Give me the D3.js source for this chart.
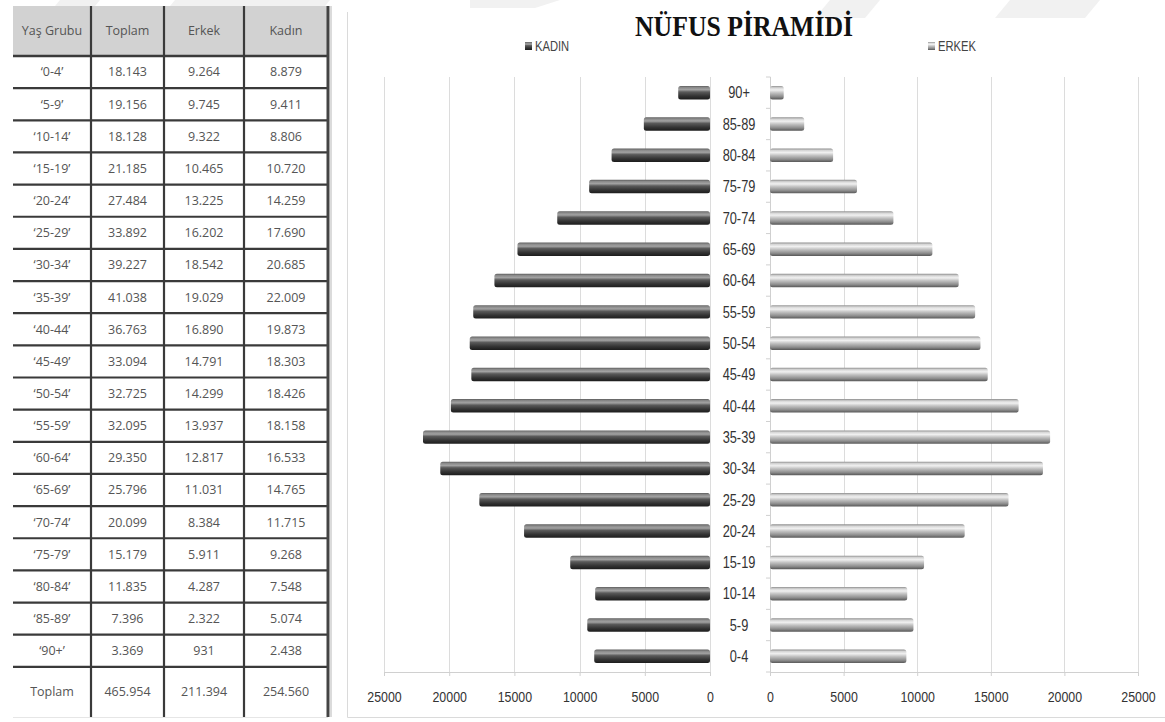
<!DOCTYPE html>
<html>
<head>
<meta charset="utf-8">
<script src="https://cdn.jsdelivr.net/npm/d3@7"></script>
<style>
  html, body { margin: 0; padding: 0; background: #fff; }
  svg { display: block; }
</style>
</head>
<body>
<svg id="chart" width="1165" height="722"></svg>
<script>
// ---------- DATA ----------
const ageGroups = ["0-4","5-9","10-14","15-19","20-24","25-29","30-34","35-39","40-44","45-49","50-54","55-59","60-64","65-69","70-74","75-79","80-84","85-89","90+"];
const toplam = [18143,19156,18128,21185,27484,33892,39227,41038,36763,33094,32725,32095,29350,25796,20099,15179,11835,7396,3369];
const erkek  = [9264,9745,9322,10465,13225,16202,18542,19029,16890,14791,14299,13937,12817,11031,8384,5911,4287,2322,931];
const kadin  = [8879,9411,8806,10720,14259,17690,20685,22009,19873,18303,18426,18158,16533,14765,11715,9268,7548,5074,2438];
const totals = [465954, 211394, 254560];
const tableHeaders = ["Yaş Grubu", "Toplam", "Erkek", "Kadın"];
const totalLabel = "Toplam";
const xTicks = [0, 5000, 10000, 15000, 20000, 25000];
const chartTitle = "NÜFUS PİRAMİDİ";
const legendLabels = ["KADIN", "ERKEK"];

// ---------- SETUP ----------
const svg = d3.select("#chart");
const trLocale = d3.formatLocale({decimal: ",", thousands: ".", grouping: [3], currency: ["", "₺"]});
const fmt = trLocale.format(",d");
const sans = "'Liberation Sans', Arial, sans-serif";
const squeeze = 0.8;

// faint watermark at top
const wm = svg.append("g").attr("fill", "#f1f1f1");
[[60,0,100,0,85,18,45,18],[175,0,330,0,315,18,160,18],[470,0,560,0,535,8,470,8],[830,0,880,0,865,18,815,18],[1010,0,1100,0,1085,18,995,18]]
  .forEach(p => wm.append("polygon").attr("points", [[p[0],p[1]],[p[2],p[3]],[p[4],p[5]],[p[6],p[7]]].map(d=>d.join(",")).join(" ")));

// ---------- TABLE ----------
const colEdges = [13, 91, 164, 244, 328];
const tableTop = 6, headerBottom = 56, rowH = 32.15;
const nRows = ageGroups.length;
const rowsBottom = headerBottom + nRows * rowH;
const tableBottom = 717;
const tg = svg.append("g");

tg.append("rect").attr("x", colEdges[0]).attr("y", tableTop)
  .attr("width", colEdges[4] - colEdges[0]).attr("height", headerBottom - tableTop)
  .attr("fill", "#d2d2d2");

const hLines = [headerBottom];
for (let i = 1; i <= nRows; i++) hLines.push(headerBottom + i * rowH);
tg.selectAll("line.h").data(hLines).join("line")
  .attr("x1", colEdges[0]).attr("x2", colEdges[4])
  .attr("y1", d => d).attr("y2", d => d)
  .attr("stroke", "#3a3a3a").attr("stroke-width", (d, i) => i === 0 ? 2.6 : 2.2);
tg.append("line").attr("x1", colEdges[0]).attr("x2", colEdges[4])
  .attr("y1", tableBottom + 0.5).attr("y2", tableBottom + 0.5)
  .attr("stroke", "#e6e6e6").attr("stroke-width", 1);
tg.selectAll("line.v").data(colEdges.slice(1)).join("line")
  .attr("x1", d => d).attr("x2", d => d)
  .attr("y1", tableTop).attr("y2", tableBottom)
  .attr("stroke", (d, i) => i === 3 ? "#444" : "#3a3a3a")
  .attr("stroke-width", (d, i) => i === 3 ? 3 : 2.2);
tg.append("line").attr("x1", 331).attr("x2", 331).attr("y1", tableTop).attr("y2", tableBottom)
  .attr("stroke", "#cfcfcf").attr("stroke-width", 1.5);

const colCenter = i => (colEdges[i] + colEdges[i + 1]) / 2;
const tableFont = "'Open Sans', 'Noto Sans', sans-serif";
const tableSize = 12.5;
tg.selectAll("text.hdr").data(tableHeaders).join("text")
  .attr("x", (d, i) => colCenter(i)).attr("y", (tableTop + headerBottom) / 2)
  .attr("dy", "0.35em").attr("text-anchor", "middle")
  .attr("font-family", tableFont).attr("font-size", tableSize).attr("fill", "#555")
  .text(d => d);

const rows = ageGroups.map((a, i) => ["‘" + a + "’", fmt(toplam[i]), fmt(erkek[i]), fmt(kadin[i])]);
rows.forEach((r, ri) => {
  const cy = headerBottom + ri * rowH + rowH / 2;
  tg.selectAll(null).data(r).join("text")
    .attr("x", (d, i) => colCenter(i)).attr("y", cy)
    .attr("dy", "0.35em").attr("text-anchor", "middle")
    .attr("font-family", tableFont).attr("font-size", tableSize).attr("fill", "#555")
    .text(d => d);
});
const totRow = [totalLabel].concat(totals.map(fmt));
tg.selectAll("text.tot").data(totRow).join("text")
  .attr("x", (d, i) => colCenter(i)).attr("y", (rowsBottom + tableBottom) / 2)
  .attr("dy", "0.35em").attr("text-anchor", "middle")
  .attr("font-family", tableFont).attr("font-size", tableSize).attr("fill", "#555")
  .text(d => d);

// ---------- CHART ----------
const cg = svg.append("g");
cg.append("line").attr("x1", 347.5).attr("x2", 347.5).attr("y1", 12).attr("y2", 717.5).attr("stroke", "#dadada");
cg.append("line").attr("x1", 347.5).attr("x2", 1165).attr("y1", 717.5).attr("y2", 717.5).attr("stroke", "#dadada");

const plotTop = 77, plotBottom = 672;
const y = d3.scaleBand().domain(ageGroups.slice().reverse()).range([plotTop, plotBottom]).paddingInner(0.57).paddingOuter(0.285);
const xL = d3.scaleLinear().domain([25000, 0]).range([384, 710]);
const xR = d3.scaleLinear().domain([0, 25000]).range([770, 1138]);

const defs = svg.append("defs");
const gDark = defs.append("linearGradient").attr("id", "gDark").attr("x1", 0).attr("y1", 0).attr("x2", 0).attr("y2", 1);
[[0,"#5e5e5e"],[0.12,"#8a8a8a"],[0.28,"#a2a2a2"],[0.45,"#5a5a5a"],[0.75,"#333"],[1,"#1c1c1c"]]
  .forEach(s => gDark.append("stop").attr("offset", s[0]).attr("stop-color", s[1]));
const gLight = defs.append("linearGradient").attr("id", "gLight").attr("x1", 0).attr("y1", 0).attr("x2", 0).attr("y2", 1);
[[0,"#8e8e8e"],[0.14,"#d6d6d6"],[0.3,"#f0f0f0"],[0.5,"#c4c4c4"],[0.8,"#8c8c8c"],[1,"#575757"]]
  .forEach(s => gLight.append("stop").attr("offset", s[0]).attr("stop-color", s[1]));

// gridlines
cg.selectAll("line.gl").data(xTicks).join("line")
  .attr("x1", d => Math.round(xL(d)) + 0.5).attr("x2", d => Math.round(xL(d)) + 0.5)
  .attr("y1", plotTop).attr("y2", plotBottom).attr("stroke", "#dcdcdc");
cg.selectAll("line.gr").data(xTicks.filter(d => d > 0)).join("line")
  .attr("x1", d => Math.round(xR(d)) + 0.5).attr("x2", d => Math.round(xR(d)) + 0.5)
  .attr("y1", plotTop).attr("y2", plotBottom).attr("stroke", "#dcdcdc");

// bottom axes
const axL = cg.append("g").attr("transform", `translate(0,${plotBottom})`)
  .call(d3.axisBottom(xL).tickValues(xTicks).tickSize(4).tickPadding(15).tickFormat(d3.format("d")));
const axR = cg.append("g").attr("transform", `translate(0,${plotBottom})`)
  .call(d3.axisBottom(xR).tickValues(xTicks).tickSize(4).tickPadding(15).tickFormat(d3.format("d")));
[axL, axR].forEach(a => {
  a.select(".domain").attr("stroke", "#d0d0d0");
  a.selectAll(".tick line").attr("stroke", "#d0d0d0");
  a.selectAll(".tick text").attr("font-family", sans).attr("font-size", 15.5).attr("fill", "#333")
    .attr("transform", `scale(${squeeze},1)`);
});

// right panel vertical axis with ticks at band boundaries
const axY = cg.append("g").attr("transform", `translate(770,0)`);
axY.append("line").attr("x1", 0.5).attr("x2", 0.5).attr("y1", plotTop).attr("y2", plotBottom).attr("stroke", "#d0d0d0");
const bounds = ageGroups.slice().reverse().map(d => y(d) - y.step() * y.paddingInner() / 2).concat([plotBottom]);
axY.selectAll("line.t").data(bounds).join("line")
  .attr("x1", -4).attr("x2", 0.5).attr("y1", d => d).attr("y2", d => d).attr("stroke", "#d0d0d0");

// bars
cg.selectAll("rect.k").data(ageGroups).join("rect")
  .attr("x", (d, i) => xL(kadin[i])).attr("y", d => y(d))
  .attr("width", (d, i) => xL(0) - xL(kadin[i])).attr("height", y.bandwidth())
  .attr("rx", 2.5).attr("fill", "url(#gDark)");
cg.selectAll("rect.e").data(ageGroups).join("rect")
  .attr("x", xR(0)).attr("y", d => y(d))
  .attr("width", (d, i) => xR(erkek[i]) - xR(0)).attr("height", y.bandwidth())
  .attr("rx", 2.5).attr("fill", "url(#gLight)");

// category labels
cg.selectAll("text.cat").data(ageGroups).join("text")
  .attr("transform", d => `translate(739,${y(d) + y.bandwidth() / 2}) scale(${squeeze},1)`)
  .attr("dy", "0.36em").attr("text-anchor", "middle")
  .attr("font-family", sans).attr("font-size", 16).attr("fill", "#333")
  .text(d => d);

// title
cg.append("text").attr("x", 744).attr("y", 36).attr("text-anchor", "middle")
  .attr("font-family", "'Liberation Serif', 'DejaVu Serif', serif").attr("font-weight", "bold")
  .attr("font-size", 30).attr("fill", "#111")
  .attr("textLength", 218).attr("lengthAdjust", "spacingAndGlyphs")
  .text(chartTitle);

// legend
const legendPos = [[525, "url(#gDark)"], [928, "url(#gLight)"]];
legendLabels.forEach((l, i) => {
  const g = cg.append("g").attr("transform", `translate(${legendPos[i][0]},42)`);
  g.append("rect").attr("x", 0).attr("y", 0).attr("width", 7).attr("height", 8).attr("fill", legendPos[i][1]);
  g.append("text").attr("transform", `translate(10,4) scale(${squeeze},1)`).attr("dy", "0.35em")
    .attr("font-family", sans).attr("font-size", 14).attr("fill", "#444").text(l);
});
</script>
</body>
</html>
